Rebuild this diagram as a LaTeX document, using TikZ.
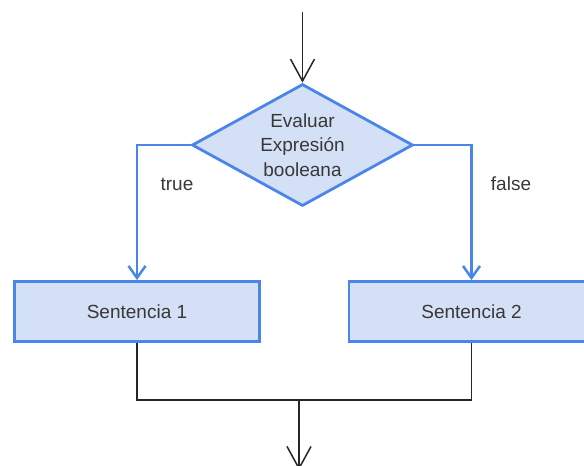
\documentclass[tikz,border=0pt]{standalone}
\usepackage{fontspec}
\setmainfont{Liberation Sans}
\usetikzlibrary{shapes.geometric,arrows.meta}
\definecolor{flowblue}{HTML}{4A86E8}
\definecolor{flowfill}{HTML}{D4E0F5}
\definecolor{flowtext}{HTML}{383838}
\begin{document}
\begin{tikzpicture}[x=1pt,y=-1pt,
  every node/.style={font=\fontsize{19}{24.5}\selectfont, text=flowtext},
  decision/.style={diamond, aspect=1.8, draw=flowblue, fill=flowfill, line width=2.8pt,
    minimum width=221pt, minimum height=122pt, inner sep=0pt, align=center},
  stepbox/.style={rectangle, draw=flowblue, fill=flowfill, line width=2.8pt,
    minimum width=245pt, minimum height=60pt, inner sep=0pt},
  flow/.style={draw=black!85, line width=1.5pt,
    -{Straight Barb[length=22pt,width=24pt,line width=1.5pt]}},
  branch/.style={draw=flowblue, line width=2.8pt,
    -{Straight Barb[length=12pt,width=17pt,line width=2.5pt]}},
  mergeline/.style={draw=black!85, line width=1.5pt}]
\useasboundingbox (0,0) rectangle (584,466);
\clip (0,0) rectangle (584,466);

% decision and the two statements
\node[decision] (d) at (302.5,145) {Evaluar\\Expresión\\booleana};
\node[stepbox] (s1) at (137,311.5) {Sentencia 1};
\node[stepbox] (s2) at (471.5,311.5) {Sentencia 2};

% branch labels
\node (t) at (177,184) {true};
\node (f) at (511,184) {false};

% entry and exit points
\coordinate (in) at (302.5,12);
\coordinate (m) at (299,400);
\coordinate (out) at (299,470);

% connectors
\draw[flow] (in) -- (d.north);
\draw[branch] (d.west) -| (s1.north);
\draw[branch] (d.east) -| (s2.north);
\draw[mergeline] (s1.south) |- (m) -| (s2.south);
\draw[flow] (m) -- (out);
\end{tikzpicture}
\end{document}
